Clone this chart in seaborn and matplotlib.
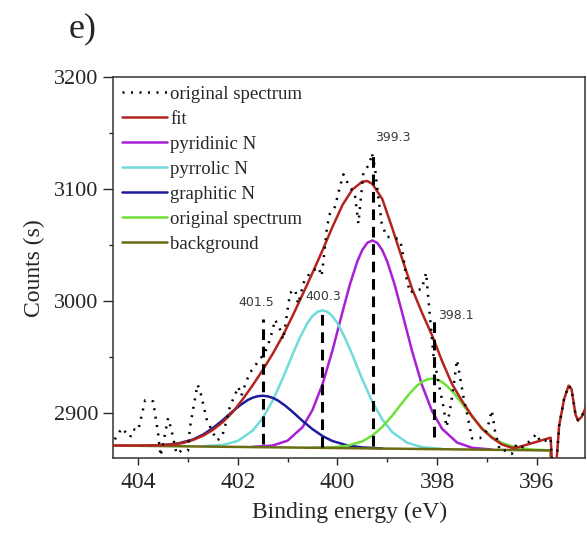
import matplotlib
matplotlib.use("Agg")
import matplotlib.pyplot as plt
import seaborn as sns
from matplotlib.ticker import MultipleLocator

# ---- data ----
# raw spectrum (binding energy in eV, counts)
spec_be = [404.47, 404.33, 404.16, 404.1, 404.0, 403.86, 403.7, 403.6, 403.55, 403.4,
           403.33, 403.23, 403.13, 403.0, 402.96, 402.81, 402.76, 402.62, 402.42, 402.32,
           402.26, 402.16, 401.99, 401.93, 401.82, 401.72, 401.45, 401.35, 401.25, 401.15,
           401.09, 400.95, 400.85, 400.79, 400.68, 400.55, 400.38, 400.32, 400.28, 400.21,
           400.15, 400.05, 399.95, 399.88, 399.78, 399.65, 399.58, 399.48, 399.35, 399.31,
           399.25, 399.18, 399.11, 399.01, 398.88, 398.74, 398.68, 398.61, 398.54, 398.44,
           398.31, 398.22, 398.17, 398.07, 397.94, 397.87, 397.81, 397.74, 397.67, 397.6,
           397.54, 397.47, 397.37, 397.3, 397.14, 397.0, 396.9, 396.84, 396.74, 396.62,
           396.5, 396.4, 396.27, 396.13, 396.0, 395.93, 395.8, 395.72, 395.68, 395.62,
           395.55, 395.45, 395.36, 395.3, 395.22, 395.17, 395.1, 395.0, 394.9]
spec_counts = [2876, 2886, 2878, 2885, 2884, 2911, 2910, 2881, 2861, 2895,
               2884, 2863, 2866, 2866, 2887, 2925, 2920, 2893, 2875, 2878,
               2887, 2905, 2923, 2915, 2929, 2938, 2954, 2966, 2983, 2974,
               2965, 3007, 3010, 2997, 3016, 3025, 3030, 3022, 3036, 3066,
               3078, 3084, 3102, 3113, 3104, 3095, 3069, 3114, 3123, 3132,
               3120, 3093, 3069, 3057, 3057, 3054, 3040, 3019, 3007, 3010,
               3010, 3025, 2999, 2950, 2920, 2905, 2887, 2902, 2923, 2947,
               2932, 2914, 2893, 2877, 2877, 2884, 2902, 2884, 2866, 2866,
               2863, 2872, 2869, 2875, 2881, 2874, 2875, 2877, 2845, 2845,
               2888, 2912, 2924, 2921, 2898, 2893, 2896, 2906, 2915]

# cumulative fit curve
fit_be = [404.5, 404.1, 403.7, 403.3, 403.1, 402.9, 402.7, 402.5, 402.3, 402.1,
          401.9, 401.7, 401.5, 401.3, 401.1, 400.9, 400.7, 400.5, 400.3, 400.1,
          399.9, 399.7, 399.5, 399.4, 399.3, 399.1, 398.9, 398.7, 398.5, 398.3,
          398.1, 397.9, 397.7, 397.5, 397.3, 397.1, 396.9, 396.7, 396.5, 396.4,
          395.72, 395.68, 395.62, 395.55, 395.45, 395.36, 395.3, 395.22, 395.17, 395.1,
          395.0, 394.9]
fit_counts = [2870.5, 2870.5, 2870.6, 2871.5, 2872.8, 2875.5, 2879.2, 2884.5, 2891.5, 2900.5,
              2912.0, 2924.5, 2938.0, 2952.5, 2968.5, 2986.5, 3005.5, 3025.0, 3045.0, 3066.0,
              3085.5, 3099.5, 3106.5, 3107.0, 3104.5, 3091.0, 3065.0, 3037.5, 3010.5, 2989.0,
              2969.0, 2946.0, 2925.5, 2910.5, 2897.0, 2885.5, 2877.5, 2871.5, 2868.5, 2868.6,
              2877.5, 2845.0, 2845.0, 2888.0, 2912.0, 2924.0, 2921.0, 2898.0, 2893.0, 2896.0,
              2906.0, 2915.0]

# pyridinic N (399.3 eV)
pyridinic_be = [401.7, 401.3, 401.0, 400.7, 400.5, 400.3, 400.1, 399.9, 399.75, 399.6,
                399.5, 399.4, 399.3, 399.2, 399.1, 399.0, 398.85, 398.7, 398.5, 398.3,
                398.1, 397.9, 397.6, 397.3, 396.9]
pyridinic_counts = [2869.3, 2870.5, 2874.9, 2886.9, 2902.4, 2925.3, 2955.5, 2989.7, 3014.5, 3035.3,
                    3045.4, 3051.8, 3053.9, 3051.7, 3045.2, 3035.0, 3014.1, 2989.1, 2954.7, 2924.3,
                    2901.2, 2885.5, 2873.2, 2868.5, 2866.9]

# pyrrolic N (400.3 eV)
pyrrolic_be = [402.7, 402.3, 402.0, 401.7, 401.5, 401.3, 401.1, 400.9, 400.75, 400.6,
               400.5, 400.4, 400.3, 400.2, 400.1, 400.0, 399.85, 399.7, 399.5, 399.3,
               399.1, 398.9, 398.6, 398.3, 397.9]
pyrrolic_counts = [2869.9, 2871.0, 2874.6, 2883.9, 2895.0, 2910.6, 2930.4, 2952.1, 2967.4, 2980.2,
                   2986.3, 2990.1, 2991.4, 2990.0, 2986.1, 2979.9, 2967.0, 2951.5, 2929.6, 2909.6,
                   2893.8, 2882.5, 2873.0, 2869.0, 2867.5]

# graphitic N (401.5 eV)
graphitic_be = [403.9, 403.5, 403.2, 402.9, 402.7, 402.5, 402.3, 402.1, 401.95, 401.8,
                401.7, 401.6, 401.5, 401.4, 401.3, 401.2, 401.05, 400.9, 400.7, 400.5,
                400.3, 400.1, 399.8, 399.5, 399.1]
graphitic_counts = [2870.3, 2870.8, 2872.3, 2875.9, 2880.2, 2886.1, 2893.3, 2901.2, 2906.6, 2911.2,
                    2913.3, 2914.6, 2915.0, 2914.5, 2913.1, 2910.9, 2906.2, 2900.6, 2892.5, 2885.1,
                    2879.0, 2874.5, 2870.6, 2868.8, 2867.9]

# fourth component (398.1 eV, labelled "original spectrum" in the legend)
comp4_be = [400.5, 400.1, 399.8, 399.5, 399.3, 399.1, 398.9, 398.7, 398.55, 398.4,
            398.3, 398.2, 398.1, 398.0, 397.9, 397.8, 397.65, 397.5, 397.3, 397.1,
            396.9, 396.7, 396.4, 396.1, 395.72, 395.70]
comp4_counts = [2868.6, 2868.9, 2870.3, 2874.2, 2879.4, 2887.1, 2897.2, 2908.7, 2917.1, 2924.1,
                2927.5, 2929.6, 2930.3, 2929.5, 2927.3, 2923.8, 2916.7, 2908.1, 2896.4, 2886.1,
                2878.2, 2872.8, 2868.6, 2866.9, 2866.2, 2840.0]

# background
bg_be = [404.5, 395.72, 395.70]
bg_counts = [2870.5, 2866.1, 2840.0]

# peak markers
peak_pos = [401.5, 400.3, 399.28, 398.07]
peak_top = [2984, 2991, 3132, 2984]
peak_bottom = [2872, 2869, 2870, 2878]
peak_text = ["401.5", "400.3", "399.3", "398.1"]
peak_text_xy = [(401.62, 2998), (400.28, 3004), (398.89, 3146), (397.62, 2987)]

sns.set_style("ticks")
plt.rcParams["font.family"] = ["Liberation Serif", "DejaVu Serif"]

fig = plt.figure(figsize=(5.87, 5.33), dpi=100)
ax = fig.add_axes([0.193, 0.140, 0.8036, 0.7154])

sns.lineplot(x=spec_be, y=spec_counts, ax=ax, color="black", lw=1.8,
             linestyle=(0, (0.8, 2.6)), label="original spectrum", zorder=10,
             sort=False, estimator=None)
sns.lineplot(x=fit_be, y=fit_counts, ax=ax, color="#b3241f", lw=1.8,
             label="fit", sort=False, estimator=None, zorder=5)
sns.lineplot(x=pyridinic_be, y=pyridinic_counts, ax=ax, color="#a81fd6", lw=1.8,
             label="pyridinic N", sort=False, estimator=None, zorder=4)
sns.lineplot(x=pyrrolic_be, y=pyrrolic_counts, ax=ax, color="#6fdbdb", lw=1.8,
             label="pyrrolic N", sort=False, estimator=None, zorder=4)
sns.lineplot(x=graphitic_be, y=graphitic_counts, ax=ax, color="#1c1c9c", lw=1.8,
             label="graphitic N", sort=False, estimator=None, zorder=4)
sns.lineplot(x=comp4_be, y=comp4_counts, ax=ax, color="#6ee03a", lw=1.8,
             label="original spectrum", sort=False, estimator=None, zorder=4)
sns.lineplot(x=bg_be, y=bg_counts, ax=ax, color="#6b6b12", lw=1.8,
             label="background", sort=False, estimator=None, zorder=4.5)

# dashed markers at the peak centres
for xp, yt, yb in zip(peak_pos, peak_top, peak_bottom):
    ax.plot([xp, xp], [yb, yt], color="black", lw=2.2, linestyle=(0, (3.5, 2.2)), zorder=6)
for txt, (tx, ty) in zip(peak_text, peak_text_xy):
    ax.text(tx, ty, txt, ha="center", va="center", fontsize=9, color="#3a3a3a",
            family="DejaVu Sans", zorder=11)

ax.set_xlim(404.5, 395.03)
ax.set_ylim(2859, 3200)
ax.xaxis.set_major_locator(MultipleLocator(2))
ax.xaxis.set_minor_locator(MultipleLocator(1))
ax.yaxis.set_major_locator(MultipleLocator(100))
ax.yaxis.set_minor_locator(MultipleLocator(50))
ax.tick_params(axis="x", which="major", direction="out", length=5, width=1, labelsize=17, pad=5)
ax.tick_params(axis="x", which="minor", direction="out", length=3, width=1)
ax.tick_params(axis="y", which="major", direction="out", length=7, width=1, labelsize=16, pad=4)
ax.tick_params(axis="y", which="minor", direction="out", length=3, width=1)
for s in ax.spines.values():
    s.set_visible(True)
    s.set_linewidth(1.1)
    s.set_color("#333333")

ax.set_xlabel("Binding energy (eV)", fontsize=17, labelpad=6)
ax.set_ylabel("Counts (s)", fontsize=17, labelpad=6)

ax.legend(loc="upper left", bbox_to_anchor=(0.0, 1.0), frameon=False, fontsize=13.5,
          handlelength=2.4, handletextpad=0.2, labelspacing=0.42, borderaxespad=0.3,
          borderpad=0.15)

fig.text(0.14, 0.945, "e)", fontsize=26, ha="center", va="center")

fig.savefig("out.png", dpi=100)
